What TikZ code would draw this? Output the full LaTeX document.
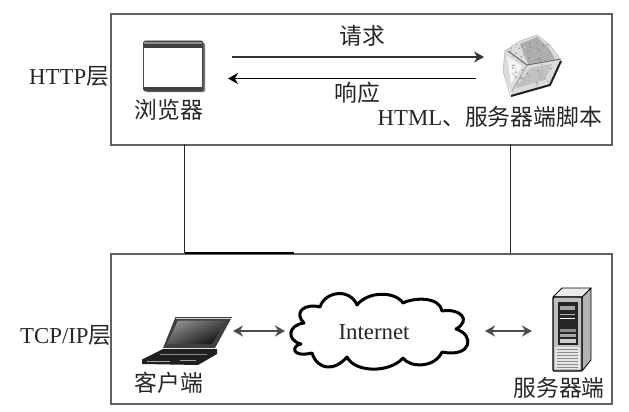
\documentclass[tikz,border=0pt]{standalone}
\usepackage{fontspec}
\setmainfont{Liberation Serif}
\newfontfamily\cjk{Noto Sans CJK SC}
\usetikzlibrary{arrows.meta}
\tikzset{
  layerbox/.style={draw=black!62,line width=1.9pt,fill=white,minimum width=501pt,inner sep=0pt,anchor=north west},
  lbl/.style={font=\fontsize{22.8}{25}\selectfont,inner sep=0pt,text=black!85},
  wire/.style={draw=black!85,line width=1.7pt},
  flow/.style={draw=black!80,line width=1.5pt,-{Stealth[length=10pt,width=11pt]}},
  both/.style={draw=black!70,line width=1.6pt,{Stealth[length=10pt,width=11pt]}-{Stealth[length=10pt,width=11pt]}},
  cloudline/.style={draw=black,line width=3pt,fill=white,line join=round},
}
\begin{document}
\begin{tikzpicture}[x=1pt,y=-1pt]
\useasboundingbox (0,0) rectangle (629,412);
\fill[white] (0,0) rectangle (629,412);
% layer boxes
\node[layerbox,minimum height=131pt] (http) at (110,13) {};
\node[layerbox,minimum height=150pt] (tcp) at (110,253) {};
\coordinate (ha) at (184.5,144); \coordinate (ta) at (184.5,253);
\coordinate (hb) at (510.5,144); \coordinate (tb) at (510.5,253);
\draw[wire] (ha) -- (ta);
\draw[wire] (hb) -- (tb);
\draw[black,line width=1.7pt] (ta) -- ++(109,0);
% layer labels
\node[lbl,anchor=west] (httpl) at (29,76) {HTTP{\cjk 层}};
\node[lbl,anchor=west] (tcpl) at (20,335) {TCP/IP{\cjk 层}};
% browser icon
\node[inner sep=0pt,minimum width=62pt,minimum height=52pt] (browser) at (173.5,66) {};
\fill[black!55,rounded corners=1.5pt] (145.5,43) rectangle (205,92);
\draw[black!70,line width=0.8pt,fill=black!75,rounded corners=1.5pt] (143.5,41) rectangle (203,91);
\fill[white] (144,48.5) rectangle (202,86.5);
\fill[black!45] (144,42.5) rectangle (202,44.5);
\node[lbl] (browserl) at (169,110) {\cjk 浏览器};
% document icon
\node[inner sep=0pt,minimum width=58pt,minimum height=60pt] (doc) at (533,66) {};
\fill[black!14] (505,51) -- (520,41) -- (537,35) -- (550,45) -- (561,61) -- (550,85) -- (512,96) -- (503,71) -- cycle;
\fill[black!32] (520,44) -- (537,37) -- (548,47) -- (555,59) -- (528,64) -- cycle;
\fill[black!24] (530,68) -- (552,64) -- (545,80) -- (516,88) -- cycle;
\fill[black!4] (507,56) -- (522,66) -- (511,84) -- cycle;
\pgfmathsetseed{7}
\foreach \i in {1,...,90}{
  \pgfmathsetmacro{\dx}{511+rnd*40}
  \pgfmathsetmacro{\dy}{42+rnd*46}
  \pgfmathsetmacro{\dg}{int(20+rnd*40)}
  \fill[black!\dg,opacity=.55] (\dx,\dy) circle (1pt);
}
\draw[black!60,line width=1pt] (508,51) -- (527,65) -- (561,59);
\draw[black!35,line width=1pt] (527,65) -- (512,91);
\draw[black!88,line width=2pt,line join=round] (561,61) -- (550,85) -- (511,96);
\draw[black!25,line width=0.7pt] (505,51) -- (520,41) -- (537,35) -- (550,45) -- (561,60);
\draw[black!25,line width=0.7pt] (505,51) -- (503,71) -- (510,95);
\node[lbl,anchor=east] (docl) at (602,117) {HTML{\cjk 、服务器端脚本}};
% flows
\coordinate (reqa) at (232,57); \coordinate (reqb) at (484,57);
\coordinate (resa) at (476,78.5); \coordinate (resb) at (228,78.5);
\draw[flow] (reqa) -- (reqb);
\draw[flow,black] (resa) -- (resb);
\node[lbl] (reql) at (362,36) {\cjk 请求};
\node[lbl] (resl) at (357,93) {\cjk 响应};
% laptop
\node[inner sep=0pt,minimum width=90pt,minimum height=50pt] (laptop) at (187,342) {};
\fill[black!88] (142,359.5) -- (163,349) -- (217,349) -- (217,354) -- (198,365) -- (142,364) -- cycle;
\draw[black!35,line width=0.7pt] (147,361) -- (170,361);
\draw[black!35,line width=0.7pt] (180,360) -- (196,360);
\draw[black!45,line width=0.6pt] (160,354) -- (207,354);
\fill[black!75] (175.5,317) -- (232,317) -- (215,348) -- (163,348) -- cycle;
\draw[black!15,line width=0.6pt] (176,318) -- (231,318);
\shade[left color=black!45,right color=black!92,shading angle=25] (178,320.5) -- (226,320.5) -- (212,344) -- (167,344) -- cycle;
\draw[black!10,line width=1pt] (177,348) -- (199,348);
% server
\node[inner sep=0pt,minimum width=40pt,minimum height=84pt] (server) at (572,330) {};
\draw[black,line width=0.8pt,fill=black!30,line join=round] (582,297) -- (591,288) -- (591,360) -- (582,371) -- cycle;
\draw[black,line width=0.8pt,fill=black!8,line join=round] (553,297) -- (562,288) -- (591,288) -- (582,297) -- cycle;
\draw[black,line width=1.2pt,fill=black!25,rounded corners=1pt] (553,297) rectangle (582,371);
\fill[black!85] (557.5,302) rectangle (578,345);
\fill[black!35] (560,306) rectangle (575,310);
\draw[black!30,line width=.6pt] (560,314) -- (575,314);
\draw[white,line width=.6pt] (560,318) -- (575,318);
\fill[black!45] (560,329) rectangle (576,332);
\fill[black!35] (560,334) rectangle (576,337);
\fill[black!20] (560,339) rectangle (576,343);
\fill[black!10] (555,347) rectangle (580,369);
\foreach \yy in {349,352,355,358,361,364,367}{\draw[black!45,line width=.7pt] (557,\yy) -- (578,\yy);}
% cloud
\node[inner sep=0pt,minimum width=177pt,minimum height=73pt] (cloud) at (380,332) {};
\draw[cloudline] (304,323) .. controls (293,312) and (305,303) .. (320,307)
 .. controls (325,291) and (350,288) .. (357,305)
 .. controls (368,291) and (395,291) .. (403,303)
 .. controls (415,297) and (440,297) .. (442,311)
 .. controls (460,308) and (472,320) .. (456,329)
 .. controls (475,335) and (472,358) .. (442,352)
 .. controls (435,368) and (410,368) .. (403,358)
 .. controls (390,373) and (355,373) .. (347,357)
 .. controls (335,371) and (318,371) .. (312,353)
 .. controls (290,358) and (292,345) .. (301,344)
 .. controls (286,340) and (288,325) .. (304,323) -- cycle;
\node[lbl] (inet) at (374,332) {Internet};
\coordinate (la) at (233,331); \coordinate (lb) at (285,331);
\coordinate (ra) at (485,331); \coordinate (rb) at (532,331);
\draw[both] (la) -- (lb);
\draw[both] (ra) -- (rb);
\node[lbl] (lapl) at (169,383) {\cjk 客户端};
\node[lbl] (serl) at (559,388) {\cjk 服务器端};
\end{tikzpicture}
\end{document}
